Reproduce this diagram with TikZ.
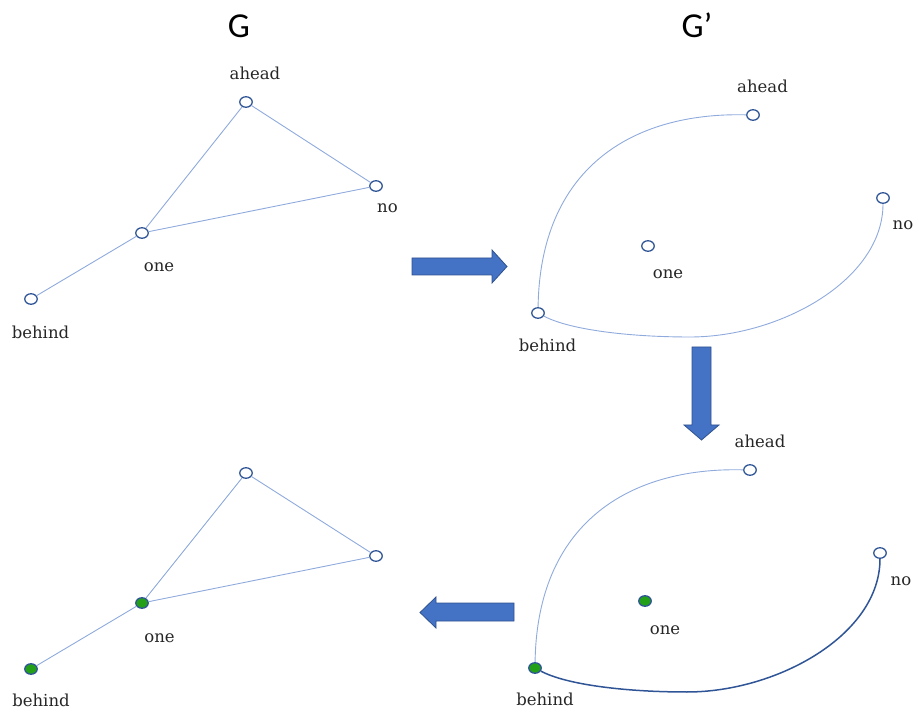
\documentclass[tikz,border=0pt]{standalone}
\usepackage{fontspec}
\setmainfont{DejaVu Serif}
\newfontfamily\titlefont{Carlito}
\definecolor{nodeline}{RGB}{47,85,151}
\definecolor{edgeblue}{RGB}{143,170,220}
\definecolor{arrowfill}{RGB}{68,114,196}
\definecolor{arrowline}{RGB}{47,82,143}
\definecolor{marked}{RGB}{36,160,24}
\definecolor{labeltext}{RGB}{38,38,38}
\usetikzlibrary{shapes.geometric}
\tikzset{
  vtx/.style={draw=nodeline, line width=1.3pt, fill=white, shape=ellipse,
    minimum width=12.5pt, minimum height=10.5pt, inner sep=0pt},
  vtxon/.style={vtx, fill=marked},
  edge/.style={draw=edgeblue, line width=0.9pt},
  hotedge/.style={draw=nodeline, line width=1.5pt},
  lbl/.style={anchor=base, inner sep=0pt, text=labeltext,
    font=\fontsize{16.5}{20}\selectfont},
  ttl/.style={anchor=base, inner sep=0pt, font=\titlefont\fontsize{35}{40}\selectfont},
  bigarrow/.style={fill=arrowfill, draw=arrowline, line width=0.8pt, line join=miter}
}
\begin{document}
\begin{tikzpicture}[x=1pt, y=-1pt]
\useasboundingbox (0,0) rectangle (914,711);

% titles
\node[ttl] (tG) at (239,38) {G};
\node[ttl] (tGp) at (697,38) {G’};

% ---- G (top left) ----
\node[vtx] (a1) at (246,102) {};
\node[vtx] (n1) at (376,186) {};
\node[vtx] (o1) at (142,233) {};
\node[vtx] (b1) at (31,299) {};
\draw[edge] (a1) -- (n1);
\draw[edge] (a1) -- (o1);
\draw[edge] (n1) -- (o1);
\draw[edge] (o1) -- (b1);
\node[lbl] (la1) at (255,80) {ahead};
\node[lbl] (ln1) at (387.5,213) {no};
\node[lbl] (lo1) at (159,272) {one};
\node[lbl] (lb1) at (40.5,339) {behind};

% ---- G' (top right) ----
\node[vtx] (a2) at (753,115) {};
\node[vtx] (n2) at (883,198) {};
\node[vtx] (o2) at (648,246) {};
\node[vtx] (b2) at (538,313) {};
\draw[edge] (b2) .. controls (540,170) and (630,112) .. (a2);
\draw[edge] (b2) .. controls (570,330) and (630,337) .. (690,337)
               .. controls (780,337) and (883,280) .. (n2);
\node[lbl] (la2) at (762.5,93) {ahead};
\node[lbl] (ln2) at (903,230) {no};
\node[lbl] (lo2) at (668,279) {one};
\node[lbl] (lb2) at (547.5,352) {behind};

% ---- G' with marked vertices (bottom right) ----
\node[vtx] (a3) at (750,470) {};
\node[vtx] (n3) at (880,553) {};
\node[vtxon] (o3) at (645,601) {};
\node[vtxon] (b3) at (535,668) {};
\draw[edge] (b3) .. controls (537,525) and (627,467) .. (a3);
\draw[hotedge] (b3) .. controls (567,685) and (627,692) .. (687,692)
               .. controls (777,692) and (880,635) .. (n3);
\node[lbl] (la3) at (760,448) {ahead};
\node[lbl] (ln3) at (901,585) {no};
\node[lbl] (lo3) at (665,634) {one};
\node[lbl] (lb3) at (545,705) {behind};

% ---- G with marked vertices (bottom left) ----
\node[vtx] (a4) at (246,473) {};
\node[vtx] (n4) at (376,556) {};
\node[vtxon] (o4) at (142,603) {};
\node[vtxon] (b4) at (31,669) {};
\draw[edge] (a4) -- (n4);
\draw[edge] (a4) -- (o4);
\draw[edge] (n4) -- (o4);
\draw[edge] (o4) -- (b4);
\node[lbl] (lo4) at (159.5,642) {one};
\node[lbl] (lb4) at (41,706) {behind};

% block arrows between the stages
\draw[bigarrow] (412,258) -- (492,258) -- (492,250) -- (507,266.5)
  -- (492,283) -- (492,275) -- (412,275) -- cycle;
\draw[bigarrow] (692,347) -- (711,347) -- (711,425) -- (719,425)
  -- (701.5,440) -- (684,425) -- (692,425) -- cycle;
\draw[bigarrow] (514,603) -- (436,603) -- (436,597) -- (420,612.5)
  -- (436,628) -- (436,621) -- (514,621) -- cycle;
\end{tikzpicture}
\end{document}
